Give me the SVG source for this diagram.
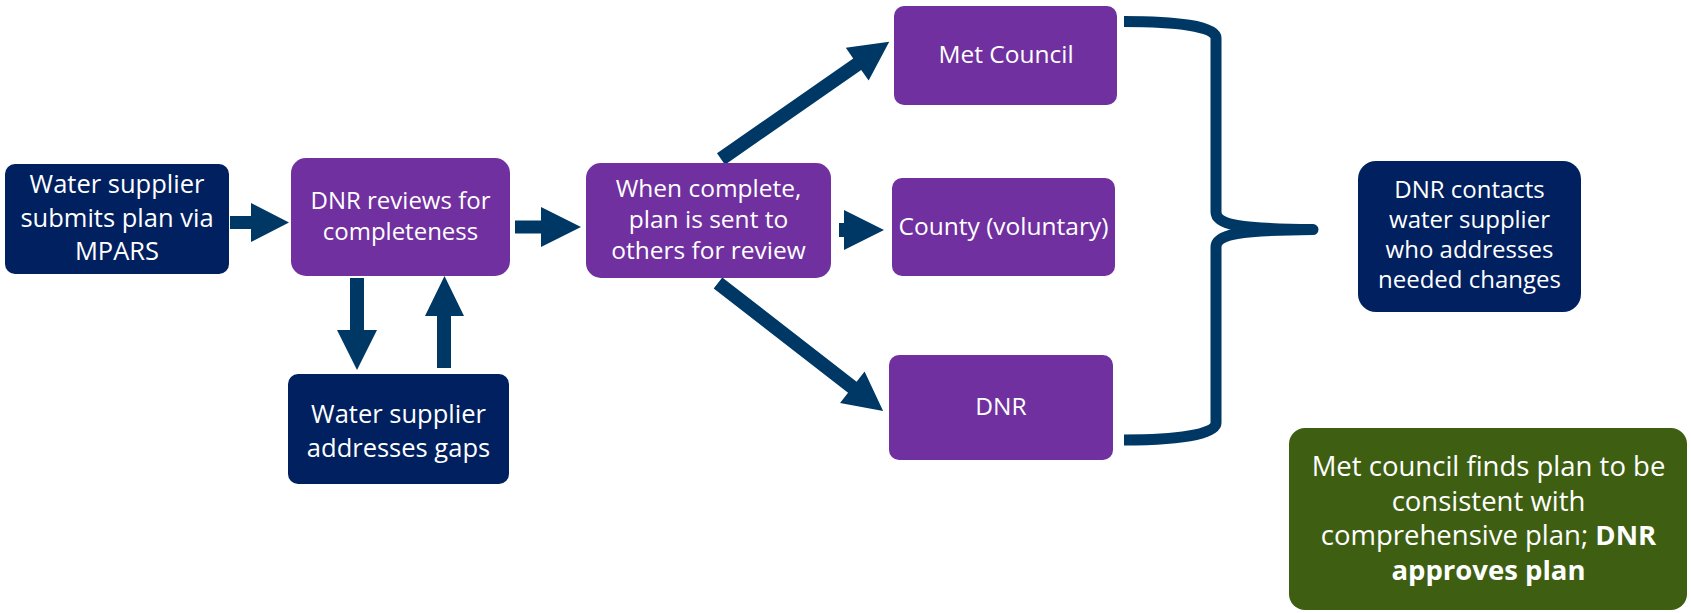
<svg xmlns="http://www.w3.org/2000/svg" width="1691" height="613" viewBox="0 0 1691 613">
<style>
.navy{fill:#002060}
.purple{fill:#7030A0}
.green{fill:#3E5F12}
.arrow{fill:#003865}
.brace{fill:none;stroke:#003865;stroke-width:11;stroke-linejoin:round;stroke-linecap:butt}
text{font-family:"Open Sans","Noto Sans","DejaVu Sans",sans-serif;fill:#ffffff;text-anchor:middle}
.t26{font-size:25.5px}
.t245{font-size:24.5px}
.t24{font-size:24px}
.t28{font-size:27.5px}
.b{font-weight:700}
</style>
<rect width="1691" height="613" fill="#ffffff"/>
<g id="connectors">
  <polygon class="arrow" points="230,216 251,216 251,203 289,222.5 251,242 251,229 230,229"/>
  <polygon class="arrow" points="515,220.5 541,220.5 541,207 581,227 541,247 541,233.5 515,233.5"/>
  <polygon class="arrow" points="350,278 364,278 364,330 377,330 357,370 337,330 350,330"/>
  <polygon class="arrow" points="437,368 451,368 451,316 464,316 444.5,276 425,316 437,316"/>
  <polygon class="arrow" points="839,223 844,223 844,210 884,230 844,250 844,237 839,237"/>
  <polygon class="arrow" transform="translate(721,159) rotate(-34.85)" points="0,-7 166,-7 166,-20 205,0 166,20 166,7 0,7"/>
  <polygon class="arrow" transform="translate(718,283) rotate(37.8)" points="0,-7 170,-7 170,-20 209,0 170,20 170,7 0,7"/>
  <path class="brace" d="M1124,21.5 C1175,21.5 1216,26 1216,38 L1216,212 C1216,225 1240,229 1313,229.5 C1240,230 1216,234 1216,247 L1216,423 C1216,435 1175,440 1124,440"/>
</g>
<g id="n1">
  <rect class="navy" x="5" y="164" width="224" height="110" rx="10"/>
  <text class="t26"><tspan x="117" y="193">Water supplier</tspan><tspan x="117" y="226.5">submits plan via</tspan><tspan x="117" y="260">MPARS</tspan></text>
</g>
<g id="n2">
  <rect class="purple" x="291" y="158" width="219" height="118" rx="15"/>
  <text class="t24"><tspan x="400.5" y="209">DNR reviews for</tspan><tspan x="400.5" y="240">completeness</tspan></text>
</g>
<g id="n3">
  <rect class="navy" x="288" y="374" width="221" height="110" rx="10"/>
  <text class="t26"><tspan x="398.5" y="423">Water supplier</tspan><tspan x="398.5" y="456.5">addresses gaps</tspan></text>
</g>
<g id="n4">
  <rect class="purple" x="586" y="163" width="245" height="115" rx="15"/>
  <text class="t245"><tspan x="708.5" y="197">When complete,</tspan><tspan x="708.5" y="228">plan is sent to</tspan><tspan x="708.5" y="259">others for review</tspan></text>
</g>
<g id="n5">
  <rect class="purple" x="894" y="6" width="223" height="99" rx="10"/>
  <text class="t245" x="1006" y="62.5">Met Council</text>
</g>
<g id="n6">
  <rect class="purple" x="892" y="178" width="223" height="98" rx="10"/>
  <text class="t245" x="1003.5" y="235">County (voluntary)</text>
</g>
<g id="n7">
  <rect class="purple" x="889" y="355" width="224" height="105" rx="10"/>
  <text class="t245" x="1001" y="415">DNR</text>
</g>
<g id="n8">
  <rect class="navy" x="1358" y="161" width="223" height="151" rx="18"/>
  <text class="t24"><tspan x="1469.5" y="197.5">DNR contacts</tspan><tspan x="1469.5" y="227.5">water supplier</tspan><tspan x="1469.5" y="257.5">who addresses</tspan><tspan x="1469.5" y="287.5">needed changes</tspan></text>
</g>
<g id="n9">
  <rect class="green" x="1289" y="428" width="398" height="182" rx="16"/>
  <text class="t28"><tspan x="1488.5" y="476">Met council finds plan to be</tspan><tspan x="1488.5" y="510.5">consistent with</tspan><tspan x="1488.5" y="545">comprehensive plan; <tspan class="b">DNR</tspan></tspan><tspan class="b" x="1488.5" y="579.5">approves plan</tspan></text>
</g>
</svg>
